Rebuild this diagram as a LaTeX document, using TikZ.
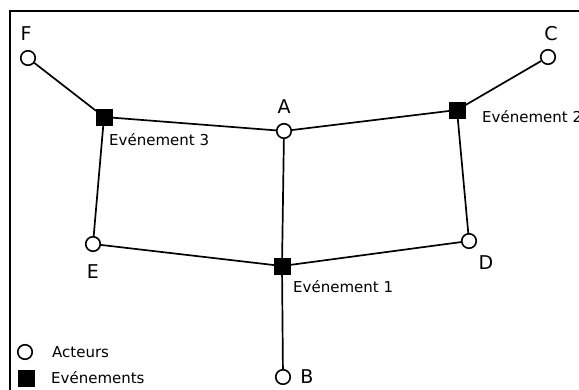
\documentclass[tikz,border=0pt]{standalone}
\usepackage{fontspec}
\setmainfont{DejaVu Sans}
\begin{document}
\begin{tikzpicture}[x=1pt,y=-1pt,
  actor/.style={circle,draw=black,line width=1.6pt,fill=white,minimum size=14.5pt,inner sep=0pt},
  event/.style={rectangle,fill=black,draw=black,minimum size=15.5pt,inner sep=0pt},
  lbl/.style={inner sep=0pt,font=\fontsize{19}{22}\selectfont},
  elbl/.style={inner sep=0pt,anchor=west,font=\fontsize{15}{18}\selectfont},
  edge/.style={line width=1.7pt}]
\useasboundingbox (0,0) rectangle (579,389);
\draw[line width=1.8pt] (10,395) -- (10,11) -- (590,11);
% nodes
\node[actor] (F) at (28,58) {};
\node[actor] (C) at (548,57) {};
\node[actor] (A) at (284,131) {};
\node[actor] (E) at (93,244) {};
\node[actor] (D) at (469,241) {};
\node[actor] (B) at (283,377) {};
\node[event] (E3) at (104,117) {};
\node[event] (E2) at (457,110) {};
\node[event] (E1) at (282,266) {};
% labels
\node[lbl] (lF) at (26,34) {F};
\node[lbl] (lC) at (551,34) {C};
\node[lbl] (lA) at (284,107) {A};
\node[lbl] (lE) at (93,272) {E};
\node[lbl] (lD) at (486,263) {D};
\node[lbl] (lB) at (307,377) {B};
\node[elbl] (t3) at (109,140) {Evénement 3};
\node[elbl] (t2) at (482,117) {Evénement 2};
\node[elbl] (t1) at (293,287) {Evénement 1};
% edges
\draw[edge] (F) -- (E3);
\draw[edge] (E3) -- (A);
\draw[edge] (A) -- (E2);
\draw[edge] (E2) -- (C);
\draw[edge] (E3) -- (E);
\draw[edge] (E) -- (E1);
\draw[edge] (A) -- (E1);
\draw[edge] (E1) -- (B);
\draw[edge] (E1) -- (D);
\draw[edge] (D) -- (E2);
% legend
\node[actor] (la) at (25,352) {};
\node[event] (le) at (26,378) {};
\node[elbl] (ta) at (52,352) {Acteurs};
\node[elbl] (te) at (51,378) {Evénements};
\end{tikzpicture}
\end{document}
